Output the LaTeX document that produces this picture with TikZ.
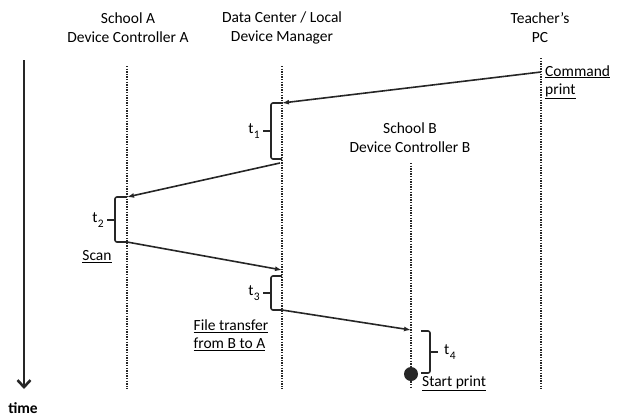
\documentclass[tikz,border=0pt]{standalone}
\usepackage{fontspec}
\setmainfont{Carlito}
\usetikzlibrary{arrows.meta,positioning}
\newcommand{\tlab}[1]{t\kern0.5pt\raisebox{-4.5pt}{\fontsize{11.5}{12}\selectfont#1}}

\begin{document}
\begin{tikzpicture}[x=1pt,y=-1pt,
    lifeline/.style={line width=1.5pt,dash pattern=on 1.4pt off 1.2pt,draw=black!85},
    msg/.style={line width=1.6pt,draw=black!85,-{Latex[length=7pt,width=5pt]}},
    bracket/.style={line width=1.6pt,draw=black!85,rounded corners=2pt},
    lbl/.style={font=\fontsize{15.5}{19}\selectfont,align=center,inner sep=0pt},
    note/.style={font=\fontsize{15.5}{18}\selectfont,align=left,inner sep=0pt}]
        \useasboundingbox (0,0) rectangle (619,416);

        % lifelines
        \coordinate (A0) at (127,66);
        \coordinate (A1) at (127,389);
        \coordinate (D0) at (282,66);
        \coordinate (D1) at (282,389);
        \coordinate (B0) at (411,163);
        \coordinate (B1) at (411,389);
        \coordinate (P0) at (541,58);
        \coordinate (P1) at (541,389);

        \draw[lifeline] (A0) -- (A1);
        \draw[lifeline] (D0) -- (D1);
        \draw[lifeline] (B0) -- (B1);
        \draw[lifeline] (P0) -- (P1);

        \node[lbl] (hA) at (128,28) {School A\\Device Controller A};
        \node[lbl] (hD) at (282,28) {Data Center / Local\\Device Manager};
        \node[lbl] (hP) at (540,28) {Teacher’s\\PC};
        \node[lbl] (hB) at (410,138) {School B\\Device Controller B};

        % time axis
        \coordinate (T0) at (24,60);
        \coordinate (T1) at (24,389);
        \draw[line width=2.6pt,draw=black!85,-{Straight Barb[length=7pt,width=13pt,line width=2.6pt]}] (T0) -- (T1);
        \node[lbl,font=\fontsize{15.5}{19}\selectfont\bfseries] (time) at (23,408) {time};

        % messages
        \coordinate (m1s) at (541,72);
        \coordinate (m1e) at (282,103);
        \coordinate (m2s) at (280,163);
        \coordinate (m2e) at (127,197);
        \coordinate (m3s) at (127,242);
        \coordinate (m3e) at (282,270);
        \coordinate (m4s) at (282,310);
        \coordinate (m4e) at (411,330);

        \draw[msg] (m1s) -- (m1e);
        \draw[msg] (m2s) -- (m2e);
        \draw[msg] (m3s) -- (m3e);
        \draw[msg] (m4s) -- (m4e);

        % brackets
        \draw[bracket] (m1e) -- (271,103) -- (271,159) -- (282,159);
        \coordinate (k1) at (263,131);
        \draw[bracket] (271,131) -- (k1);
        \node[lbl,left=3pt of k1] (t1) {\tlab{1}};

        \draw[bracket] (m2e) -- (115,197) -- (115,242) -- (m3s);
        \coordinate (k2) at (107,220);
        \draw[bracket] (115,220) -- (k2);
        \node[lbl,left=3pt of k2] (t2) {\tlab{2}};

        \draw[bracket] (282,276) -- (271,276) -- (271,310) -- (m4s);
        \coordinate (k3) at (263,293);
        \draw[bracket] (271,293) -- (k3);
        \node[lbl,left=3pt of k3] (t3) {\tlab{3}};

        \draw[bracket] (421,331) -- (430,331) -- (430,373) -- (421,373);
        \coordinate (k4) at (438,352);
        \draw[bracket] (430,352) -- (k4);
        \node[lbl,right=6pt of k4] (t4) {\tlab{4}};

        \fill[black!85] (411,374) circle (7);

        % notes
        \node[note,anchor=west] (cmd) at (545,82) {\underline{Command}\\\underline{print}};
        \node[note] (scan) at (97,257) {\underline{Scan}};
        \node[note] (file) at (231,335) {\underline{File transfer}\\\underline{from B to A}};
        \node[note,anchor=west] (start) at (422,383) {\underline{Start print}};
    \end{tikzpicture}
\end{document}
